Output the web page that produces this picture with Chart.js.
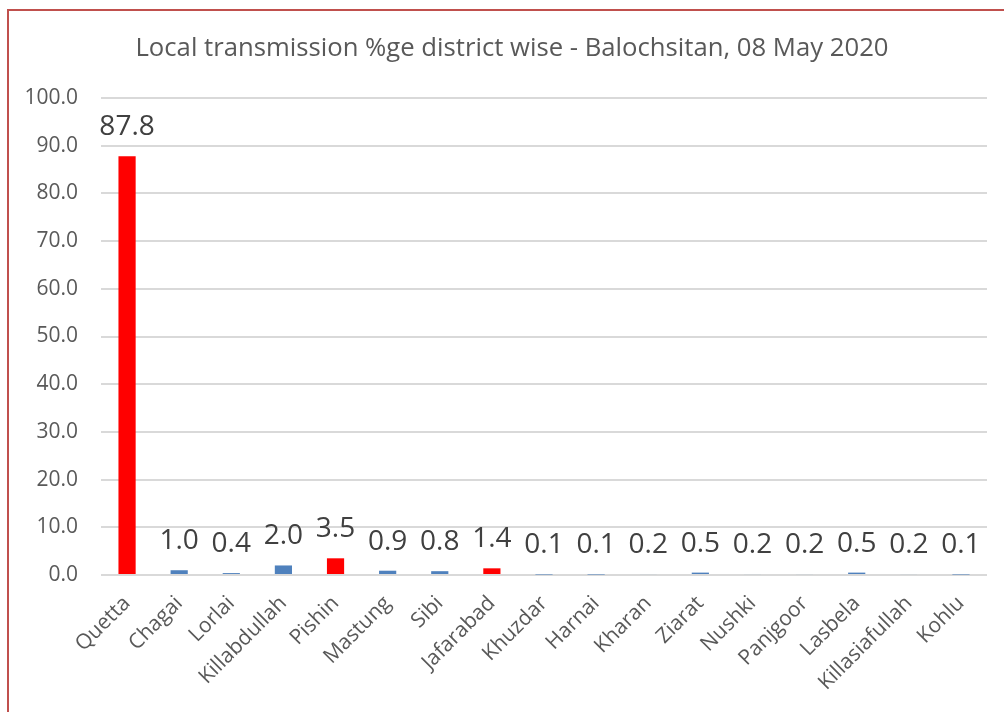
<!DOCTYPE html>
<html>
<head>
<meta charset="utf-8">
<script src="https://cdn.jsdelivr.net/npm/chart.js@4.4.0/dist/chart.umd.min.js"></script>
<style>
    body { margin: 0; background: #fff; overflow: hidden; }
    #wrap { position: relative; width: 1004px; height: 712px; }
    #frame { position: absolute; left: 7px; top: 9px; width: 1020px; height: 720px; border: 2px solid #c0504d; }
    #title { position: absolute; left: 0; top: 29px; width: 1024px; text-align: center;
        font: 25.7px 'Open Sans', sans-serif; color: #595959; line-height: 36px; white-space: nowrap; }
    canvas { position: absolute; left: 0; top: 0; }
</style>
</head>
<body>
<div id="wrap">
    <div id="frame"></div>
    <canvas id="chart" width="1004" height="712"></canvas>
    <div id="title">Local transmission %ge district wise - Balochsitan, 08 May 2020</div>
</div>
<script>
const districts = ['Quetta', 'Chagai', 'Lorlai', 'Killabdullah', 'Pishin', 'Mastung', 'Sibi', 'Jafarabad',
    'Khuzdar', 'Harnai', 'Kharan', 'Ziarat', 'Nushki', 'Panjgoor', 'Lasbela', 'Killasiafullah', 'Kohlu'];
const localPct = [87.8, 1.0, 0.4, 2.0, 3.5, 0.9, 0.8, 1.4, 0.1, 0.1, 0.2, 0.5, 0.2, 0.2, 0.5, 0.2, 0.1];
const yTicks = [0, 10, 20, 30, 40, 50, 60, 70, 80, 90, 100];

// districts drawn in red
const highlighted = ['Quetta', 'Pishin', 'Jafarabad'];

const FONT = "'Open Sans', sans-serif";

// value labels above each bar
const barLabels = {
    id: 'barLabels',
    afterDatasetsDraw(chart) {
        const ctx = chart.ctx;
        const meta = chart.getDatasetMeta(0);
        ctx.save();
        ctx.fillStyle = '#404040';
        ctx.font = '28px ' + FONT;
        ctx.textAlign = 'center';
        ctx.textBaseline = 'middle';
        meta.data.forEach(function (bar, i) {
            ctx.fillText(localPct[i].toFixed(1), bar.x, bar.y - 29);
        });
        ctx.restore();
    }
};

new Chart(document.getElementById('chart'), {
    type: 'bar',
    data: {
        labels: districts,
        datasets: [{
            data: localPct,
            backgroundColor: districts.map(d => highlighted.includes(d) ? '#ff0000' : '#4f81bd'),
            categoryPercentage: 1,
            barPercentage: 0.33
        }]
    },
    options: {
        responsive: false,
        animation: false,
        layout: { padding: { left: 0, right: 17, top: 98, bottom: 0 } },
        plugins: {
            legend: { display: false },
            tooltip: { enabled: false },
            title: { display: false }
        },
        scales: {
            x: {
                grid: { display: false },
                border: { display: false },
                ticks: {
                    color: '#595959',
                    font: { family: FONT, size: 21 },
                    minRotation: 45,
                    maxRotation: 45,
                    autoSkip: false,
                    padding: 8
                },
                afterFit(scale) { scale.height = 137; }
            },
            y: {
                min: 0,
                max: 100,
                afterBuildTicks(scale) { scale.ticks = yTicks.map(v => ({ value: v })); },
                grid: { color: '#d9d9d9', lineWidth: 2, drawTicks: false },
                border: { display: false },
                ticks: {
                    color: '#595959',
                    font: { family: FONT, size: 21 },
                    padding: 23,
                    callback: v => v.toFixed(1)
                },
                afterFit(scale) { scale.width = 101; }
            }
        }
    },
    plugins: [barLabels]
});
</script>
</body>
</html>
